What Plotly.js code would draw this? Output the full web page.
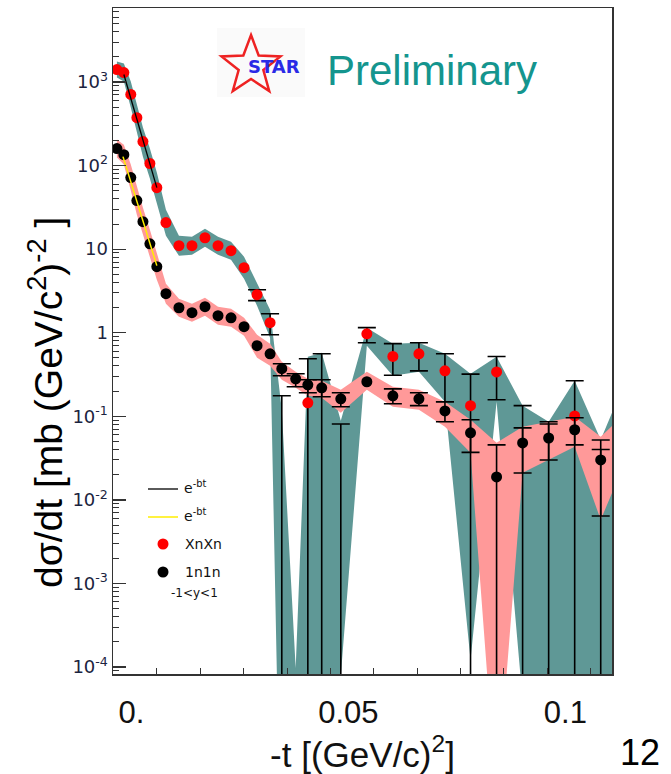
<!DOCTYPE html>
<html>
<head>
<meta charset="utf-8">
<script src="https://cdn.plot.ly/plotly-3.0.1.min.js"></script>
<style>
html,body{margin:0;padding:0;background:#fff;}
#chart{width:671px;height:774px;}
</style>
</head>
<body>
<div id="chart"></div>
<script>
// ---- data ----
// -t bins, GeV^2
const tBins = [0.0008, 0.0024, 0.0040, 0.0054, 0.0068, 0.0084, 0.0100, 0.0121, 0.0151, 0.0181,
               0.0211, 0.0241, 0.0271, 0.0301, 0.0331, 0.0361, 0.0388, 0.0420, 0.0448, 0.0480,
               0.0524, 0.0584, 0.0644, 0.0704, 0.0764, 0.0823, 0.0883, 0.0943, 0.1003, 0.1063, 0.1123];

// XnXn (red); 1e-6 = below the displayed range
const xnxnVals  = [1410, 1300, 710, 375, 194, 106, 54.5, 20.8, 11.0, 11.0,
                   13.7, 11.0, 9.6, 6.0, 2.85, 1.32, 1e-6, 1e-6, 0.145, 1e-6,
                   1e-6, 0.97, 0.52, 0.56, 0.35, 0.134, 0.34, 1e-6, 1e-6, 0.101, 1e-6];
const xnxnUpper = [NaN, NaN, NaN, NaN, NaN, NaN, NaN, NaN, NaN, NaN,
                   NaN, NaN, NaN, NaN, 3.27, 1.69, 0.176, NaN, 0.488, 0.56,
                   0.081, 1.15, 0.74, 0.76, 0.56, 0.32, 0.52, 0.134, 0.086, 0.266, 0.04];
const xnxnLower = [NaN, NaN, NaN, NaN, NaN, NaN, NaN, NaN, NaN, NaN,
                   NaN, NaN, NaN, NaN, 2.42, 0.946, 1e-6, NaN, 1e-6, 1e-6,
                   1e-6, 0.76, 0.31, 0.35, 0.149, 1e-6, 0.158, 1e-6, 1e-6, 1e-6, 1e-6];

// 1n1n (black)
const n1n1Vals  = [160, 135, 71.8, 38.1, 21.3, 11.6, 6.17, 2.93, 1.99, 1.74,
                   2.05, 1.60, 1.51, 1.18, 0.70, 0.56, 0.371, 0.281, 0.238, 0.219,
                   0.162, 0.259, 0.176, 0.162, 0.116, 0.0634, 0.0188, 0.048, 0.055, 0.069, 0.030];
const n1n1Upper = [NaN, NaN, NaN, NaN, NaN, NaN, NaN, NaN, NaN, NaN,
                   NaN, NaN, NaN, NaN, NaN, NaN, 0.425, 0.323, 0.274, 0.274,
                   0.191, NaN, 0.213, 0.191, 0.149, 0.091, 0.0455, 0.0727, 0.081, 0.096, 0.052];
const n1n1Lower = [NaN, NaN, NaN, NaN, NaN, NaN, NaN, NaN, NaN, NaN,
                   NaN, NaN, NaN, NaN, NaN, NaN, 0.306, 0.226, 0.191, 0.171,
                   0.130, NaN, 0.141, 0.134, 0.086, 0.037, 1e-6, 0.021, 0.030, 0.0455, 0.0064];

// uncertainty bands
const bandT   = [0.0008, 0.0024, 0.0040, 0.0054, 0.0068, 0.0084, 0.0100, 0.0121, 0.0151, 0.0181,
                 0.0211, 0.0241, 0.0271, 0.0301, 0.0331, 0.0361, 0.0388, 0.0420, 0.0448, 0.0480,
                 0.0524, 0.0584, 0.0644, 0.0704, 0.0764, 0.0823, 0.0883, 0.0943, 0.1003, 0.1063, 0.1123, 0.1152];
const xnxnBandHi = [1761, 1667, 1014, 553, 285, 160, 82.5, 29.7, 14.5, 14.1,
                    17.6, 14.1, 12.3, 8.13, 3.86, 1.88, 0.120, 9.7e-5, 0.516, 0.576,
                    0.0883, 1.15, 0.738, 0.759, 0.560, 0.323, 0.516, 0.134, 0.0859, 0.266, 0.0523, 0.120];
const xnxnBandLo = [1132, 1014, 495, 255, 128, 69.9, 36.1, 14.5, 8.36, 8.59,
                    10.7, 8.59, 7.48, 4.43, 2.11, 0.871, 1e-7, 1e-7, 1e-7, 1e-7,
                    5.2e-5, 0.699, 0.306, 0.341, 0.149, 1.21e-4, 0.149, 4.0e-5, 1e-7, 1e-7, 1e-7, 1e-7];
const n1n1BandHi = [205, 178, 103, 56.1, 31.4, 17.1, 8.84, 3.86, 2.55, 2.22,
                    2.62, 2.05, 1.94, 1.51, 0.946, 0.738, 0.450, 0.341, 0.281, 0.266,
                    0.208, 0.341, 0.226, 0.208, 0.149, 0.0908, 0.0482, 0.0749, 0.0859, 0.0986, 0.0568, 0.0791];
const n1n1BandLo = [125, 103, 50.2, 25.9, 14.5, 7.91, 4.31, 2.22, 1.55, 1.35,
                    1.60, 1.25, 1.18, 0.921, 0.502, 0.403, 0.274, 0.219, 0.176, 0.167,
                    0.110, 0.208, 0.130, 0.120, 0.0749, 0.0366, 2.55e-6, 0.0211, 0.0301, 0.0431, 0.00576, 0.0132];

// exponential fits e^{-bt}
const fitXnXnT = [0.0024, 0.0100];
const fitXnXnY = [1230, 54.5];
const fit1n1nT = [0.0022, 0.0100];
const fit1n1nY = [128, 6.35];

// axis labels
const xTickVals = [0, 0.05, 0.1];
const xTickText = ['0.', '0.05', '0.1'];
const yTickVals = [1e-4, 1e-3, 1e-2, 1e-1, 1, 10, 100, 1000];
const yTickText = ['10<sup>-4</sup>', '10<sup>-3</sup>', '10<sup>-2</sup>', '10<sup>-1</sup>', '1', '10', '10<sup>2</sup>', '10<sup>3</sup>'];

// ---- build ----
const plus  = (v, up) => v.map((y, i) => up[i] - y);
const minus = (v, lo) => v.map((y, i) => y - lo[i]);
const ring  = (x, hi, lo) => ({x: x.concat(x.slice().reverse()), y: hi.concat(lo.slice().reverse())});

const teal = ring(bandT, xnxnBandHi, xnxnBandLo);
const pink = ring(bandT, n1n1BandHi, n1n1BandLo);

const minorY = [];
for (let e = -5; e <= 3; e++) for (let k = 2; k <= 9; k++) minorY.push(k * Math.pow(10, e));

const traces = [
  {x: teal.x, y: teal.y, type: 'scatter', mode: 'lines', fill: 'toself', fillcolor: '#5f9896',
   line: {width: 0, color: '#5f9896'}, hoverinfo: 'skip', showlegend: false},
  {x: pink.x, y: pink.y, type: 'scatter', mode: 'lines', fill: 'toself', fillcolor: '#ff9999',
   line: {width: 0, color: '#ff9999'}, hoverinfo: 'skip', showlegend: false},
  {x: tBins, y: xnxnVals, type: 'scatter', mode: 'markers', name: 'XnXn',
   marker: {color: '#ff0000', size: 11, line: {width: 0}},
   error_y: {type: 'data', symmetric: false, array: plus(xnxnVals, xnxnUpper), arrayminus: minus(xnxnVals, xnxnLower),
             color: '#000', thickness: 1.6, width: 9}},
  {x: tBins, y: n1n1Vals, type: 'scatter', mode: 'markers', name: '1n1n',
   marker: {color: '#000000', size: 11, line: {width: 0}},
   error_y: {type: 'data', symmetric: false, array: plus(n1n1Vals, n1n1Upper), arrayminus: minus(n1n1Vals, n1n1Lower),
             color: '#000', thickness: 1.6, width: 9}},
  {x: fitXnXnT, y: fitXnXnY, type: 'scatter', mode: 'lines', line: {color: '#000', width: 1.3}, showlegend: false},
  {x: fit1n1nT, y: fit1n1nY, type: 'scatter', mode: 'lines', line: {color: '#ffee00', width: 1.5}, showlegend: false}
];

// pixel helpers for decorations
const L = 113, R = 612, T = 8, B = 674, W = R - L, H = B - T;
const px = v => (v - L) / W;
const py = v => (B - v) / H;

function starPath(cx, cy, ro, ri) {
  let d = '';
  for (let i = 0; i < 10; i++) {
    const a = (-90 + i * 36) * Math.PI / 180;
    const r = (i % 2 === 0) ? ro : ri;
    d += (i === 0 ? 'M' : 'L') + px(cx + r * Math.cos(a)).toFixed(4) + ',' + py(cy + r * Math.sin(a)).toFixed(4);
  }
  return d + 'Z';
}

const legFont = {family: 'DejaVu Sans', size: 14, color: '#111'};
const dot = (cx, cy, col) => ({type: 'circle', xref: 'paper', yref: 'paper', xsizemode: 'pixel', ysizemode: 'pixel',
  xanchor: px(cx), yanchor: py(cy), x0: -5.5, x1: 5.5, y0: -5.5, y1: 5.5, fillcolor: col, line: {width: 0}});

const shapes = [
  {type: 'rect', xref: 'paper', yref: 'paper', x0: px(217), x1: px(305), y0: py(97), y1: py(28),
   fillcolor: '#fafafa', line: {width: 0}, layer: 'below'},
  {type: 'path', xref: 'paper', yref: 'paper', path: starPath(251, 66, 31, 13),
   line: {color: '#ee2222', width: 2.5}, fillcolor: 'rgba(255,255,255,0)'},
  {type: 'line', xref: 'paper', yref: 'paper', x0: px(148), x1: px(178), y0: py(489), y1: py(489), line: {color: '#000', width: 1.3}},
  {type: 'line', xref: 'paper', yref: 'paper', x0: px(148), x1: px(178), y0: py(517), y1: py(517), line: {color: '#ffee00', width: 1.5}},
  dot(163, 544, '#ff0000'),
  dot(163, 572, '#000000')
];

const ann = (x, y, text, font, xa, extra) => Object.assign({xref: 'paper', yref: 'paper', x: px(x), y: py(y), text: text,
  showarrow: false, xanchor: xa || 'left', yanchor: 'middle', font: font}, extra || {});

const annotations = [
  ann(274, 67, 'STAR', {family: 'DejaVu Sans', size: 18, color: '#2a2ae6', weight: 'bold'}, 'center'),
  ann(325, 70, 'Preliminary', {family: 'Liberation Sans, Arial', size: 42, color: '#14958e'}),
  ann(182, 487, 'e<sup>-bt</sup>', legFont),
  ann(182, 515, 'e<sup>-bt</sup>', legFont),
  ann(183, 544, 'XnXn', legFont),
  ann(183, 572, '1n1n', legFont),
  ann(169, 593, '-1&lt;y&lt;1', {family: 'DejaVu Sans', size: 12, color: '#111'}),
  ann(45, 403, 'dσ/dt [mb (GeV/c<sup>2</sup>)<sup>-2</sup> ]', {family: 'Liberation Sans, Arial', size: 39, color: '#000'}, 'center', {textangle: -90}),
  ann(640, 774, '12', {family: 'Liberation Sans, Arial', size: 36, color: '#000'}, 'center', {yanchor: 'bottom', borderpad: 0})
];

const layout = {
  width: 671, height: 774,
  margin: {l: L, r: 671 - R, t: T, b: 774 - B, pad: 0},
  paper_bgcolor: '#fff', plot_bgcolor: '#fff',
  showlegend: false,
  xaxis: {
    range: [-0.0001, 0.1149], showgrid: false, zeroline: false,
    showline: true, linecolor: '#333', linewidth: 1.5, mirror: true,
    ticks: 'inside', ticklen: 6, tickwidth: 1, tickcolor: '#333',
    tickmode: 'array', tickvals: xTickVals, ticktext: xTickText,
    tickfont: {family: 'Liberation Sans, Arial', size: 31, color: '#111'},
    ticklabelshift: 18, ticklabelstandoff: 10,
    minor: {tickmode: 'linear', tick0: 0, dtick: 0.01, ticks: 'inside', ticklen: 6, tickwidth: 1, tickcolor: '#333', showgrid: false},
    title: {text: '-t [(GeV/c)<sup>2</sup>]', font: {family: 'Liberation Sans, Arial', size: 35, color: '#111'}, standoff: 15}
  },
  yaxis: {
    type: 'log', range: [-4.084, 3.886], showgrid: false, zeroline: false,
    showline: true, linecolor: '#333', linewidth: 1.5, mirror: true,
    ticks: 'inside', ticklen: 13, tickwidth: 1.3, tickcolor: '#333',
    tickmode: 'array', tickvals: yTickVals, ticktext: yTickText,
    tickfont: {family: 'DejaVu Sans', size: 18, color: '#1b2340'},
    minor: {tickmode: 'array', tickvals: minorY, ticks: 'inside', ticklen: 6, tickwidth: 1, tickcolor: '#333', showgrid: false}
  },
  shapes: shapes,
  annotations: annotations
};

Plotly.newPlot('chart', traces, layout, {displayModeBar: false, staticPlot: true});
</script>
</body>
</html>
